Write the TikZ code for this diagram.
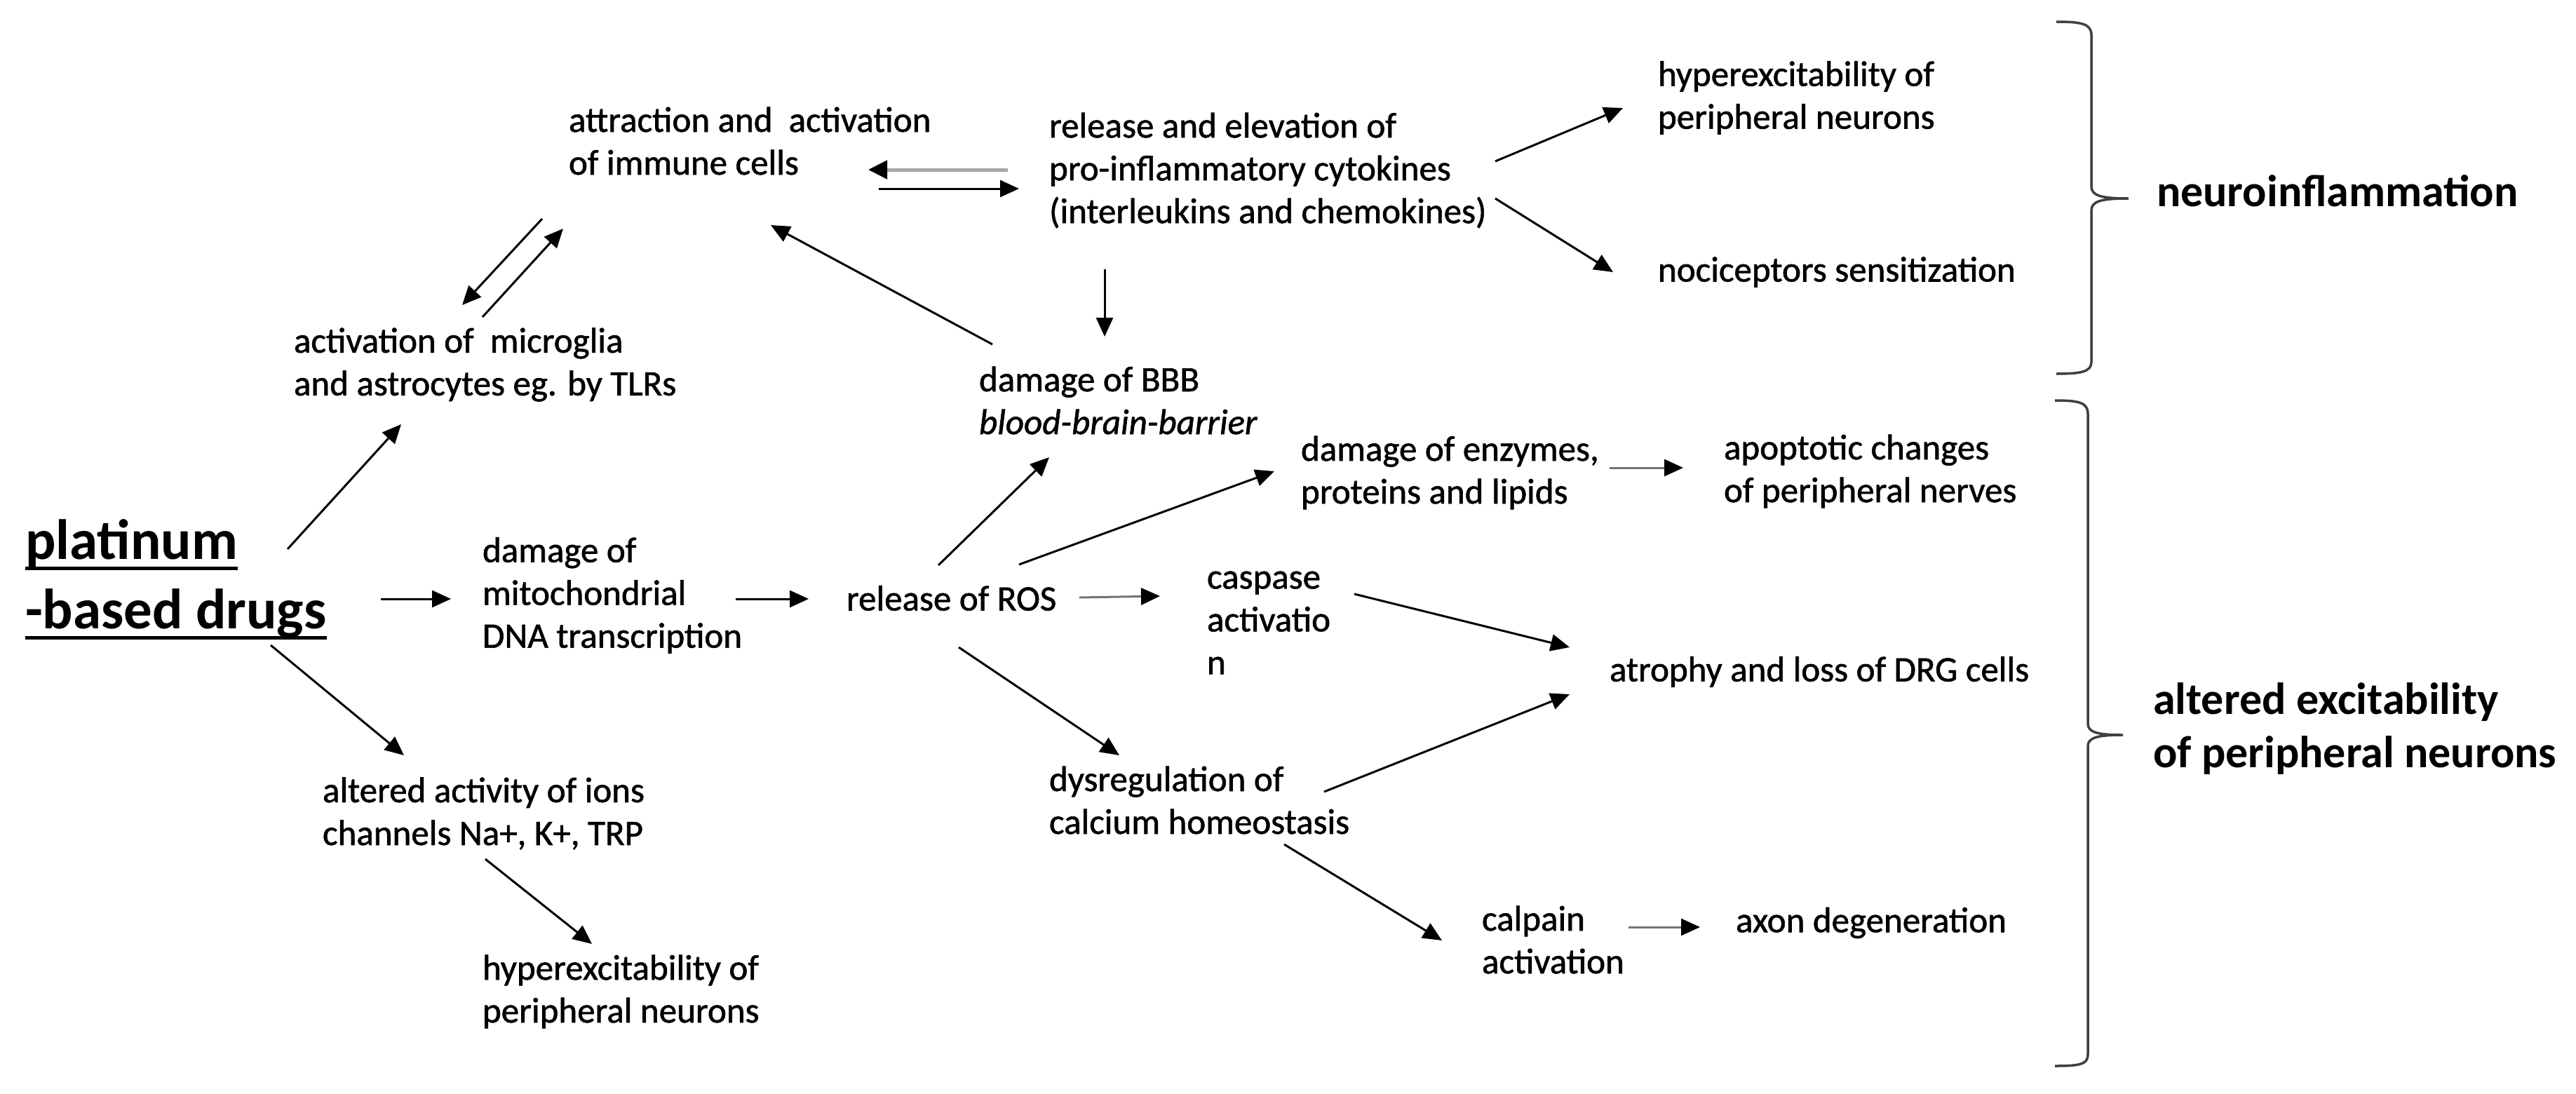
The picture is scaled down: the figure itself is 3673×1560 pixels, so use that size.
\documentclass[tikz,border=0pt]{standalone}
\usepackage{fontspec}
\setmainfont{Carlito}
\newfontfamily\lblfont{Carlito}[FakeBold=1.2]
\usetikzlibrary{arrows.meta,calc}
\newcommand{\ulword}[1]{\setbox0\hbox{#1}\rlap{\rule[-15.5pt]{\wd0}{5pt}}\box0}
\begin{document}
\begin{tikzpicture}[x=1pt,y=-1pt,
  lbl/.style={inner sep=0pt,outer sep=0pt,anchor=west,align=left,font=\lblfont\fontsize{51}{61}\selectfont},
  big/.style={lbl,font=\bfseries\fontsize{64}{76}\selectfont},
  huge/.style={lbl,font=\bfseries\fontsize{81}{99}\selectfont},
  arr/.style={line width=3pt,-{Triangle[length=27pt,width=24pt]}},
  garr/.style={line width=3pt,draw=black!55,-{Triangle[length=27pt,width=24pt,color=black]}},
  larr/.style={line width=5pt,draw=black!35,-{Triangle[length=27pt,width=26pt,color=black]}},
  brc/.style={line width=3.5pt,draw=black!75}]
\fill[white] (0,0) rectangle (3673,1560);
\useasboundingbox (0,0) rectangle (3673,1560);

% nodes
\node[lbl] (immune) at (811,201) {attraction and\ \ activation\\of immune cells};
\node[lbl] (cyto) at (1496,243) {release and elevation of\\pro-inflammatory cytokines\\(interleukins and chemokines)};
\node[lbl] (hyp1) at (2364,139.5) {hyperexcitability of\\peripheral neurons};
\node[lbl] (noci) at (2364,388) {nociceptors sensitization};
\node[big] (neuro) at (3075,272) {neuroinflammation};
\node[lbl] (micro) at (419,520) {activation of\ \ microglia\\and astrocytes eg. by TLRs};
\node[lbl] (bbb) at (1396,571) {damage of BBB\\\textit{blood-brain-barrier}};
\node[lbl] (enz) at (1855,674) {damage of enzymes,\\proteins and lipids};
\node[lbl] (apop) at (2458,672) {apoptotic changes\\of peripheral nerves};
\node[huge] (plat) at (36,826) {\ulword{platinum}\\\ulword{-based drugs}};
\node[lbl] (mito) at (688,849) {damage of\\mitochondrial\\DNA transcription};
\node[lbl] (ros) at (1207,853) {release of ROS};
\node[lbl] (casp) at (1721,888) {caspase\\activatio\\n};
\node[lbl] (drg) at (2295,958) {atrophy and loss of DRG cells};
\node[lbl] (ions) at (460,1160) {altered activity of ions\\channels Na+, K+, TRP};
\node[lbl] (hyp2) at (688,1414) {hyperexcitability of\\peripheral neurons};
\node[lbl] (calc) at (1496,1141) {dysregulation of\\calcium homeostasis};
\node[lbl] (calp) at (2113,1340) {calpain\\activation};
\node[lbl] (axon) at (2475,1316) {axon degeneration};
\node[big] (alt) at (3070,1039) {altered excitability\\of peripheral neurons};

% connectors
\draw[larr] ($(cyto.west)+(-59,-1)$) -- ($(immune.west)+(427,41)$);
\draw[arr] ($(immune.west)+(442,68)$) -- ($(cyto.west)+(-43,26)$);
\draw[arr] ($(immune.west)+(-38,111)$) -- ($(micro.west)+(240,-85)$);
\draw[arr] ($(micro.west)+(269,-68)$) -- ($(immune.west)+(-8,125)$);
\draw[arr] ($(bbb.west)+(19,-80)$) -- ($(immune.west)+(288,120)$);
\draw[arr] ($(cyto.west)+(79,141)$) -- ($(bbb.west)+(179,-91)$);
\draw[arr] ($(cyto.west)+(636,-13)$) -- ($(hyp1.west)+(-50,14.5)$);
\draw[arr] ($(cyto.west)+(636,40)$) -- ($(noci.west)+(-64,0)$);
\draw[arr] ($(plat.west)+(374,-43)$) -- ($(micro.west)+(153,85)$);
\draw[arr] ($(plat.west)+(507,28)$) -- ($(mito.west)+(-45,5)$);
\draw[arr] ($(plat.west)+(350,94)$) -- ($(ions.west)+(116,-83)$);
\draw[arr] ($(mito.west)+(361,5)$) -- ($(ros.west)+(-54,1)$);
\draw[arr] ($(ions.west)+(232,65)$) -- ($(hyp2.west)+(156,-68)$);
\draw[arr] ($(ros.west)+(131,-47)$) -- ($(bbb.west)+(100,81)$);
\draw[arr] ($(ros.west)+(246,-48)$) -- ($(enz.west)+(-38,-2)$);
\draw[garr] ($(ros.west)+(332,-1)$) -- ($(casp.west)+(-67,-38)$);
\draw[arr] ($(ros.west)+(160,70)$) -- ($(calc.west)+(100,-64)$);
\draw[garr] ($(enz.west)+(440,-7)$) -- ($(apop.west)+(-58,-5)$);
\draw[arr] ($(casp.west)+(210,-41)$) -- ($(drg.west)+(-57,-35)$);
\draw[arr] ($(calc.west)+(392,-12)$) -- ($(drg.west)+(-57,32)$);
\draw[arr] ($(calc.west)+(335,63)$) -- ($(calp.west)+(-57,1)$);
\draw[garr] ($(calp.west)+(209,-18)$) -- ($(axon.west)+(-51,6)$);

% braces
\draw[brc] (2932,31) .. controls (2968,31) and (2982,34) .. (2982,50) -- (2982,266)
  .. controls (2982,279) and (2996,283) .. (3035,283)
  .. controls (2996,283) and (2982,287) .. (2982,300) -- (2982,516)
  .. controls (2982,530) and (2968,533) .. (2932,533);
\draw[brc] (2930,571) .. controls (2964,571) and (2977,574) .. (2977,590) -- (2977,1032)
  .. controls (2977,1044) and (2990,1048) .. (3027,1048)
  .. controls (2990,1048) and (2977,1052) .. (2977,1064) -- (2977,1504)
  .. controls (2977,1518) and (2964,1520) .. (2930,1520);
\end{tikzpicture}
\end{document}
